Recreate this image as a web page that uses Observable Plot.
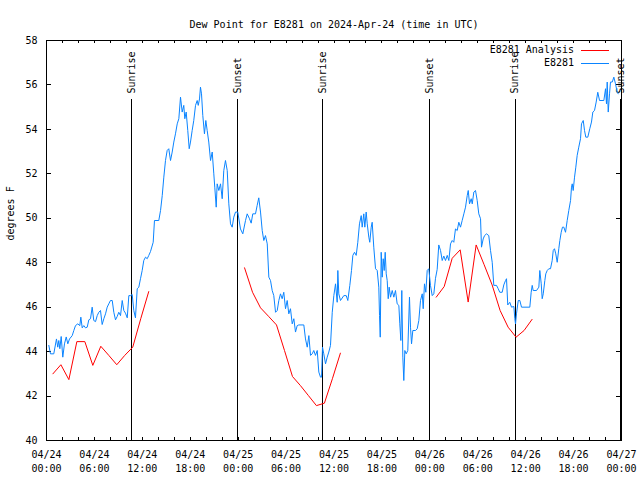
<!DOCTYPE html>
<html><head><meta charset="utf-8">
<script src="https://cdn.jsdelivr.net/npm/d3@7"></script>
<script src="https://cdn.jsdelivr.net/npm/@observablehq/plot@0.6"></script>
<style>body{margin:0;background:#fff} svg{display:block}</style>
</head><body><div id="chart"></div>
<script>
const chartTitle = "Dew Point for E8281 on 2024-Apr-24 (time in UTC)";
const yLabel = "degrees F";
const startTime = "2024-04-24T00:00:00Z";
const spanHours = 72;
const seriesNames = ["E8281 Analysis", "E8281"];
const seriesColors = ["#ff0000", "#0a84ff"];
const yTicks = [40, 42, 44, 46, 48, 50, 52, 54, 56, 58];
const sunLabels = ["Sunrise", "Sunset", "Sunrise", "Sunset", "Sunrise", "Sunset"];
const sunHours = [10.68, 23.95, 34.6, 48.0, 58.69, 71.9];

// hourly analysis [hours since start, degF]
const analysis = [
  [0.8,43.0],[1.8,43.41],[2.8,42.74],[3.8,44.45],[4.8,44.45],[5.8,43.38],[6.8,44.24],[7.8,43.83],[8.8,43.41],[9.8,43.83],[10.8,44.2],[11.8,45.48],[12.8,46.7],
  [24.8,47.77],[25.8,46.67],[26.8,45.97],[27.8,45.59],[28.8,45.2],[29.8,44.05],[30.8,42.88],[31.8,42.47],[32.8,42.02],[33.8,41.57],[34.8,41.68],[35.8,42.78],[36.8,43.93],
  [48.8,46.45],[49.8,46.93],[50.8,48.2],[51.8,48.58],[52.8,46.23],[53.8,48.8],[54.8,47.91],[55.8,47.0],[56.8,45.85],[57.8,45.1],[58.8,44.65],[59.8,44.95],[60.8,45.45]
];

// station observations [hours since start, degF]
const observed = [
  [0.29,44.28],[0.5,43.9],[0.91,43.9],[1.25,44.57],[1.41,44.2],[1.54,44.5],[1.67,44.13],[1.84,44.68],[2.04,43.75],[2.25,44.35],[2.47,44.66],[2.67,44.35],[2.88,44.57],
  [3.22,44.72],[3.42,44.95],[3.63,45.17],[3.92,45.25],[4.17,45.17],[4.3,45.55],[4.47,45.07],[4.67,45.17],[4.88,45.07],[5.1,45.1],[5.3,45.43],[5.51,45.48],[5.72,46.0],
  [5.92,45.4],[6.14,45.35],[6.35,45.62],[6.55,45.77],[6.76,45.85],[6.97,45.22],[7.18,45.48],[7.39,45.7],[7.6,46.0],[7.8,46.15],[8.01,46.3],[8.23,46.3],[8.43,45.77],
  [8.64,45.43],[8.85,45.58],[9.05,45.77],[9.27,45.62],[9.48,46.3],[9.68,45.85],[9.89,45.73],[10.11,45.52],[10.31,46.52],[10.52,46.52],[10.73,46.57],[10.93,45.85],
  [11.14,45.52],[11.36,46.83],[11.56,46.9],[11.77,47.28],[11.98,47.65],[12.18,48.1],[12.4,48.25],[12.61,48.18],[12.81,48.33],[13.02,48.5],[13.36,48.92],[13.52,49.9],
  [14.06,49.9],[14.28,50.35],[14.49,51.02],[14.69,51.85],[14.9,52.6],[15.11,53.05],[15.31,53.13],[15.53,52.6],[15.74,52.98],[15.94,53.43],[16.15,53.8],[16.37,54.25],
  [16.57,54.48],[16.78,55.45],[16.99,54.78],[17.19,55.08],[17.32,54.48],[17.49,54.78],[17.69,53.95],[17.87,53.13],[18.03,53.43],[18.24,53.95],[18.44,54.4],[18.66,55.08],
  [18.87,55.3],[19.0,55.08],[19.16,55.37],[19.28,55.9],[19.41,55.6],[19.57,54.63],[19.78,53.8],[19.95,54.4],[20.12,53.95],[20.32,53.43],[20.54,52.6],[20.75,52.98],
  [20.95,52.0],[21.07,51.4],[21.25,50.5],[21.37,51.55],[21.58,51.25],[21.79,51.55],[22.0,50.88],[22.2,52.15],[22.41,52.6],[22.63,52.15],[22.83,50.65],[23.04,49.75],
  [23.25,49.6],[23.45,50.05],[23.67,50.28],[23.95,50.28],[24.29,49.52],[24.58,49.3],[24.92,49.9],[25.13,50.2],[25.42,49.98],[25.63,49.78],[25.83,50.2],[26.17,50.2],
  [26.38,50.58],[26.58,50.92],[26.8,50.28],[27.01,49.45],[27.21,49.0],[27.42,49.22],[27.64,48.85],[27.84,47.35],[28.05,47.2],[28.26,46.75],[28.46,46.52],[28.68,45.77],
  [28.89,45.85],[29.09,46.3],[29.3,46.6],[29.51,46.38],[29.71,46.67],[29.93,45.93],[30.14,46.3],[30.34,45.7],[30.55,45.93],[30.77,45.25],[30.97,45.48],[31.18,44.88],
  [31.39,45.17],[31.59,45.2],[32.22,45.2],[32.43,44.57],[32.65,44.2],[32.85,44.72],[33.06,43.83],[33.27,43.9],[33.47,44.05],[33.68,43.83],[33.9,44.05],[34.1,43.08],
  [34.31,42.85],[34.44,42.85],[34.56,44.2],[34.72,43.9],[34.94,43.45],[35.15,43.75],[35.35,43.98],[35.56,44.28],[35.78,45.77],[35.98,46.52],[36.19,47.05],[36.4,46.22],
  [36.48,47.65],[36.6,46.6],[36.81,46.3],[37.23,46.52],[37.53,46.52],[37.73,46.3],[37.98,46.98],[38.19,47.65],[38.36,48.33],[38.57,48.47],[38.78,48.33],[38.98,48.92],
  [39.19,49.75],[39.41,50.12],[39.53,49.6],[39.73,50.2],[39.86,49.6],[40.03,50.28],[40.16,49.75],[40.36,49.15],[40.48,48.92],[40.66,49.6],[40.78,49.82],[40.98,48.7],
  [41.2,47.73],[41.41,47.65],[41.61,46.9],[41.7,45.62],[41.79,44.65],[41.91,48.47],[42.04,47.35],[42.16,48.18],[42.29,47.65],[42.41,48.47],[42.54,47.5],[42.66,47.2],
  [42.79,46.38],[42.91,46.9],[43.08,46.45],[43.29,46.75],[43.49,46.45],[43.7,46.75],[43.91,46.15],[44.12,46.08],[44.24,45.25],[44.37,44.5],[44.49,46.75],[44.62,43.75],
  [44.74,42.7],[44.87,44.05],[45.04,43.9],[45.24,44.05],[45.45,46.45],[45.58,45.1],[45.71,44.35],[45.87,44.95],[46.21,44.95],[46.42,45.03],[46.62,45.4],[46.83,46.3],
  [47.05,46.6],[47.17,45.93],[47.33,47.05],[47.5,46.67],[47.67,47.65],[47.87,47.73],[48.08,46.98],[48.3,46.52],[48.5,46.6],[48.71,47.3],[48.92,47.7],[49.12,48.8],
  [49.34,48.55],[49.55,48.1],[49.75,48.3],[49.96,48.1],[50.18,48.33],[50.38,48.1],[50.59,48.85],[50.8,49.0],[51.0,48.92],[51.21,49.52],[51.43,49.45],[51.63,49.82],
  [51.84,49.6],[52.05,49.9],[52.26,50.2],[52.47,50.5],[52.68,51.02],[52.81,51.25],[52.97,50.65],[53.18,50.88],[53.31,50.65],[53.51,51.18],[53.72,51.25],[53.93,50.8],
  [54.13,50.2],[54.35,49.98],[54.47,48.7],[54.68,49.07],[54.85,49.22],[55.1,49.3],[55.38,49.22],[55.6,48.55],[55.81,48.02],[56.01,46.98],[56.35,46.98],[56.56,46.83],
  [56.76,46.67],[57.06,46.67],[57.26,47.0],[57.48,47.2],[57.6,47.28],[57.76,46.1],[58.01,46.22],[58.23,46.0],[58.52,46.03],[58.64,45.48],[58.73,45.25],[58.85,45.7],
  [59.07,46.3],[59.27,46.3],[59.48,46.0],[60.52,46.0],[60.69,46.67],[60.82,46.98],[60.94,46.75],[61.36,46.75],[61.65,46.9],[61.77,47.65],[61.95,47.05],[62.07,46.38],
  [62.2,46.6],[62.4,47.2],[62.52,47.5],[62.7,47.65],[62.9,47.73],[63.11,47.73],[63.32,48.1],[63.45,48.55],[63.61,48.63],[63.77,48.4],[63.95,48.02],[64.15,48.63],
  [64.28,49.0],[64.45,49.37],[64.61,49.6],[64.78,49.6],[64.99,49.37],[65.2,49.9],[65.4,50.35],[65.62,50.8],[65.74,51.4],[65.83,51.55],[65.95,51.25],[66.12,51.85],
  [66.28,52.3],[66.45,52.83],[66.65,53.2],[66.87,53.58],[66.99,54.25],[67.21,54.4],[67.37,53.95],[67.53,53.65],[67.78,53.65],[68.03,54.03],[68.24,54.33],[68.41,54.78],
  [68.62,54.85],[68.83,55.23],[69.03,55.67],[69.25,55.3],[69.79,55.3],[70.0,55.83],[70.12,55.15],[70.21,56.13],[70.34,54.78],[70.5,55.6],[70.62,56.13],[70.84,56.13],
  [71.04,56.35],[71.25,56.05],[71.46,55.67],[71.59,55.6]
];

const font = "'DejaVu Sans Mono', 'Liberation Mono', monospace";
const t0 = new Date(startTime);
const hr = h => new Date(+t0 + h * 3600e3);
const t1 = hr(spanHours);
const obs = observed.map(([h, v]) => ({t: hr(h), v}));
const ana = analysis.map(([h, v]) => ({t: hr(h), v, run: Math.floor(h / 24)}));
const sun = sunHours.map((h, i) => ({t: hr(h), label: sunLabels[i]}));
const xLabelTicks = d3.utcHour.range(t0, hr(spanHours + 0.01), 6);
const xMinorTicks = d3.utcHour.range(t0, hr(spanHours + 0.01), 2);

const W = 640, H = 480, mL = 46, mR = 19, mT = 40, mB = 40;
const innerW = W - mL - mR, innerH = H - mT - mB;

const plot = Plot.plot({
  width: W, height: H,
  marginLeft: mL, marginRight: mR, marginTop: mT, marginBottom: mB,
  style: {fontFamily: font, fontSize: "10px", background: "#fff", color: "#000", overflow: "visible"},
  x: {type: "utc", domain: [t0, t1]},
  y: {domain: [40, 58]},
  marks: [
    Plot.ruleX(xMinorTicks, {x: d => d, insetTop: innerH - 3, stroke: "#000", shapeRendering: "crispEdges"}),
    Plot.ruleX(xMinorTicks, {x: d => d, insetBottom: innerH - 3, stroke: "#000", shapeRendering: "crispEdges"}),
    Plot.ruleY(yTicks, {y: d => d, insetRight: innerW - 5, stroke: "#000", shapeRendering: "crispEdges"}),
    Plot.ruleY(yTicks, {y: d => d, insetLeft: innerW - 5, stroke: "#000", shapeRendering: "crispEdges"}),
    Plot.ruleX(sun, {x: "t", insetTop: 59, stroke: "#000", shapeRendering: "crispEdges"}),
    Plot.text(sun, {x: "t", text: "label", frameAnchor: "top", dy: 53, dx: -4, rotate: -90, textAnchor: "start", fill: "#000"}),
    Plot.line(obs, {x: "t", y: "v", stroke: seriesColors[1], strokeWidth: 1, curve: "linear"}),
    Plot.line(ana, {x: "t", y: "v", z: "run", stroke: seriesColors[0], strokeWidth: 1}),
    Plot.frame({stroke: "#000", shapeRendering: "crispEdges"}),
    Plot.axisX({ticks: xLabelTicks, tickSize: 0, tickPadding: 8, tickFormat: d3.utcFormat("%m/%d\n%H:%M"), lineHeight: 1.4, label: null, fill: "#000"}),
    Plot.axisY({ticks: yTicks, tickSize: 0, tickPadding: 9, tickFormat: d => String(d), label: null, fill: "#000"}),
    Plot.text([yLabel], {frameAnchor: "left", dx: -36, rotate: -90, fill: "#000"}),
    Plot.text([chartTitle], {frameAnchor: "top", dy: -20, fill: "#000"})
  ]
});

const svg = d3.select(plot);
const leg = svg.append("g").attr("font-family", font).attr("font-size", 10);
seriesNames.forEach((name, i) => {
  const y = 50 + i * 13;
  leg.append("text").attr("x", W - mR - 47).attr("y", y).attr("dy", "0.32em").attr("text-anchor", "end").attr("fill", "#000").text(name);
  leg.append("line").attr("x1", W - mR - 40).attr("x2", W - mR - 12).attr("y1", y + 0.5).attr("y2", y + 0.5)
    .attr("stroke", seriesColors[i]).attr("stroke-width", 1).attr("shape-rendering", "crispEdges");
});
document.getElementById("chart").appendChild(plot);
</script>
</body></html>
